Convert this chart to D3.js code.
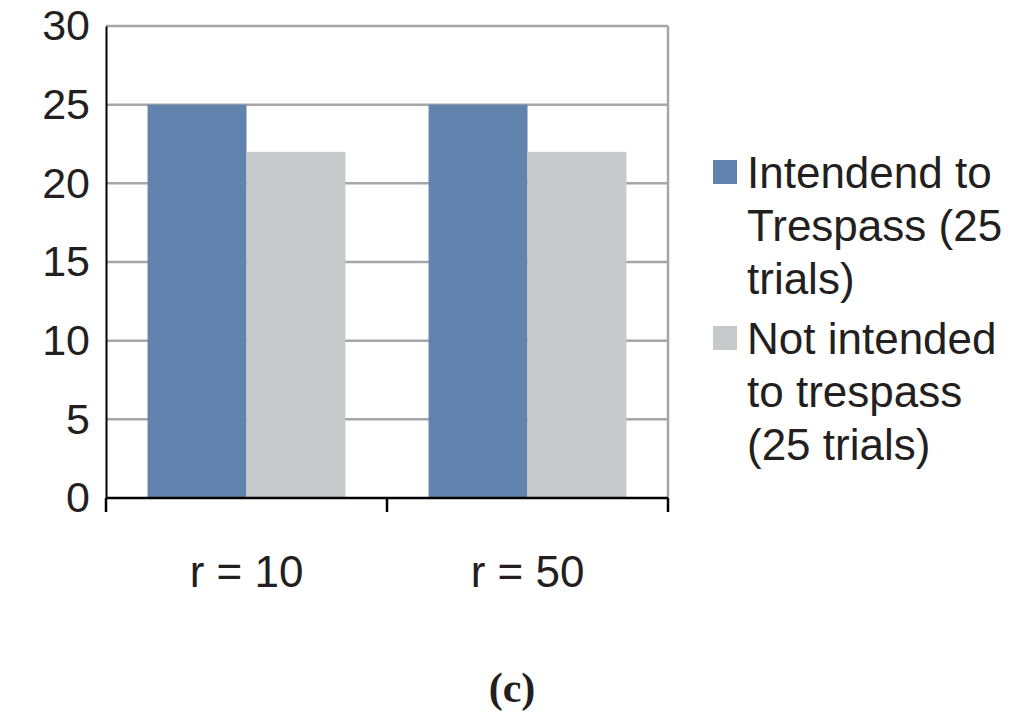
<!DOCTYPE html>
<html><head><meta charset="utf-8">
<script src="https://cdn.jsdelivr.net/npm/d3@7"></script>
<style>body{margin:0;background:#fff}</style>
</head><body>
<script>
var categories = ["r = 10", "r = 50"];
var seriesNames = ["Intendend to Trespass (25 trials)", "Not intended to trespass (25 trials)"];
var legendLines = [["Intendend to", "Trespass (25", "trials)"], ["Not intended", "to trespass", "(25 trials)"]];
var intended = [25, 25];
var notIntended = [22, 22];
var yTicks = [0, 5, 10, 15, 20, 25, 30];
var colors = ["#6283ae", "#c8c9cb"];

var svg = d3.select("body").append("svg").attr("width", 1024).attr("height", 720);
var pLeft = 106, pRight = 668, pTop = 26, pBottom = 498;
var font = "Liberation Sans, Arial";

var y = d3.scaleLinear().domain([0, 30]).range([pBottom, pTop]);
var x = d3.scaleBand().domain(categories).range([pLeft, pRight]);
var xs = d3.scaleBand().domain([0, 1]).range([0, x.bandwidth()]).paddingInner(0).paddingOuter(0.42);

// gridlines
svg.append("g").selectAll("line").data(yTicks.filter(function(d){ return d > 0; }))
	.enter().append("line")
	.attr("x1", pLeft).attr("x2", pRight)
	.attr("y1", function(d){ return y(d); }).attr("y2", function(d){ return y(d); })
	.attr("stroke", "#a6a6a6").attr("stroke-width", 2.5);
svg.append("line").attr("x1", pRight).attr("x2", pRight).attr("y1", pTop).attr("y2", pBottom)
	.attr("stroke", "#a6a6a6").attr("stroke-width", 2.5);

var data = [intended, notIntended];
data.forEach(function(vals, s) {
	svg.append("g").selectAll("rect").data(vals).enter().append("rect")
		.attr("x", function(d, i){ return x(categories[i]) + xs(s); })
		.attr("width", xs.bandwidth())
		.attr("y", function(d){ return y(d); })
		.attr("height", function(d){ return y(0) - y(d); })
		.attr("fill", colors[s]);
});

// y axis
var ya = svg.append("g").attr("transform", "translate(" + pLeft + ",0)")
	.call(d3.axisLeft(y).tickValues(yTicks).tickSize(0).tickPadding(16));
ya.select(".domain").attr("stroke", "#000").attr("stroke-width", 2);
ya.selectAll("text").attr("font-family", font).attr("font-size", 43).attr("fill", "#231f20");

// x axis
var xa = svg.append("g").attr("transform", "translate(0," + pBottom + ")");
xa.append("line").attr("x1", pLeft).attr("x2", pRight).attr("stroke", "#000").attr("stroke-width", 2.5);
xa.selectAll(".tk").data([pLeft, pLeft + x.bandwidth(), pRight]).enter().append("line")
	.attr("x1", function(d){ return d; }).attr("x2", function(d){ return d; })
	.attr("y1", 0).attr("y2", 14).attr("stroke", "#000").attr("stroke-width", 2.5);
xa.selectAll("text.cat").data(categories).enter().append("text")
	.attr("x", function(d){ return x(d) + x.bandwidth() / 2; }).attr("y", 89)
	.attr("text-anchor", "middle").attr("font-family", font)
	.attr("font-size", 44).attr("fill", "#231f20").text(function(d){ return d; });

// legend
legendLines.forEach(function(lines, s) {
	var ly = 160 + s * 166;
	svg.append("rect").attr("x", 713).attr("y", ly).attr("width", 24).attr("height", 24).attr("fill", colors[s]);
	var t = svg.append("text").attr("font-family", font).attr("font-size", 44).attr("fill", "#231f20");
	lines.forEach(function(l, k) {
		t.append("tspan").attr("x", 747).attr("y", ly + 28 + k * 53).text(l);
	});
});

svg.append("text").attr("x", 512).attr("y", 702).attr("text-anchor", "middle")
	.attr("font-family", "Liberation Serif, Times New Roman").attr("font-weight", "bold")
	.attr("font-size", 42).attr("fill", "#231f20").text("(c)");
</script>
</body></html>
